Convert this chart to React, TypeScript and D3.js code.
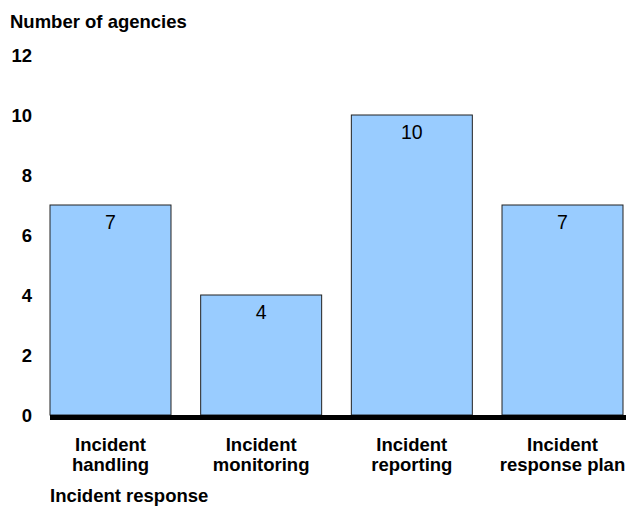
import * as d3 from "d3";
import { useRef, useEffect } from "react";

const categories = [
  ["Incident", "handling"],
  ["Incident", "monitoring"],
  ["Incident", "reporting"],
  ["Incident", "response plan"],
];
const values = [7, 4, 10, 7];
const yTicks = [0, 2, 4, 6, 8, 10, 12];

const width = 626;
const height = 506;
const font = "Arial, 'Liberation Sans', sans-serif";
const boldSize = 18.5;

const App = () => {
  const svgRef = useRef<SVGSVGElement>(null);

  useEffect(() => {
    const svgEl = d3.select(svgRef.current);
    svgEl.selectAll("*").remove(); // clear before drawing

    const keys = categories.map((c) => c.join(" "));

    const xScale = d3
      .scaleBand<string>()
      .domain(keys)
      .range([50, 623])
      .paddingInner(0.197)
      .paddingOuter(0);

    const yScale = d3.scaleLinear().domain([0, 12]).range([415, 55]);

    // y axis title
    svgEl
      .append("text")
      .attr("x", 10)
      .attr("y", 28)
      .attr("font-family", font)
      .attr("font-weight", "bold")
      .attr("font-size", boldSize)
      .attr("fill", "#000")
      .text("Number of agencies");

    // y tick labels
    const yAxisGroup = svgEl
      .append("g")
      .attr("transform", "translate(32,0)")
      .call(
        d3
          .axisLeft(yScale)
          .tickValues(yTicks)
          .tickSize(0)
          .tickPadding(0)
          .tickFormat((d) => `${d}`)
      );
    yAxisGroup.select(".domain").remove();
    yAxisGroup
      .selectAll("text")
      .attr("dy", "0.36em")
      .attr("fill", "#000")
      .attr("font-family", font)
      .attr("font-weight", "bold")
      .attr("font-size", boldSize);

    // bars
    svgEl
      .append("g")
      .selectAll("rect")
      .data(values)
      .enter()
      .append("rect")
      .attr("x", (d, i) => xScale(keys[i])!)
      .attr("y", (d) => yScale(d))
      .attr("width", xScale.bandwidth())
      .attr("height", (d) => yScale(0) - yScale(d))
      .attr("fill", "#99ccff")
      .attr("stroke", "#222")
      .attr("stroke-width", 1);

    // value labels
    svgEl
      .append("g")
      .selectAll("text")
      .data(values)
      .enter()
      .append("text")
      .attr("x", (d, i) => xScale(keys[i])! + xScale.bandwidth() / 2)
      .attr("y", (d) => yScale(d) + 24)
      .attr("text-anchor", "middle")
      .attr("font-family", font)
      .attr("font-size", 19.5)
      .attr("fill", "#000")
      .text((d) => d);

    // baseline
    svgEl
      .append("line")
      .attr("x1", 50)
      .attr("x2", width)
      .attr("y1", yScale(0) + 2.5)
      .attr("y2", yScale(0) + 2.5)
      .attr("stroke", "#000")
      .attr("stroke-width", 5);

    // category labels
    const catGroup = svgEl.append("g");
    categories.forEach((lines, i) => {
      const cx = xScale(keys[i])! + xScale.bandwidth() / 2;
      const t = catGroup
        .append("text")
        .attr("text-anchor", "middle")
        .attr("font-family", font)
        .attr("font-weight", "bold")
        .attr("font-size", boldSize)
        .attr("fill", "#000");
      lines.forEach((line, j) => {
        t.append("tspan")
          .attr("x", cx)
          .attr("y", 451 + j * 20)
          .text(line);
      });
    });

    // x axis title
    svgEl
      .append("text")
      .attr("x", 50)
      .attr("y", 502)
      .attr("font-family", font)
      .attr("font-weight", "bold")
      .attr("font-size", boldSize)
      .attr("fill", "#000")
      .text("Incident response");
  }, []);

  return (
    <div style={{ position: "absolute", left: 0, top: 0 }}>
      <svg ref={svgRef} width={width} height={height} style={{ display: "block" }} />
    </div>
  );
};

export default App;
